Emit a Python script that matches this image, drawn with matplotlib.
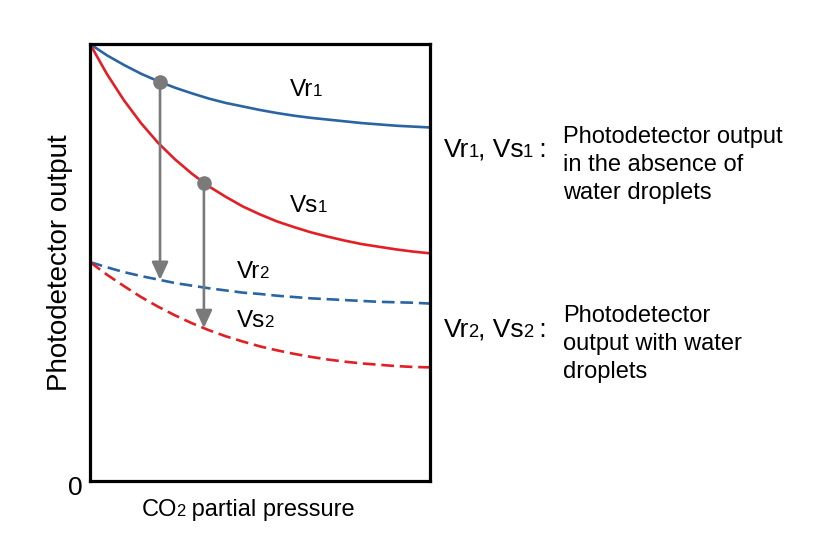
import numpy as np
import matplotlib.pyplot as plt
from matplotlib import transforms

plt.rcParams['font.family'] = ['Liberation Sans', 'DejaVu Sans']

# values (arbitrary units, 0-100 on both axes)
pressure = [0, 5, 10, 15, 20, 25, 30, 35, 40, 45, 50, 55, 60, 65, 70, 75, 80, 85, 90, 95, 100]
vr1 = [100, 97.4, 95.2, 93.2, 91.5, 90.0, 88.7, 87.5, 86.5, 85.7, 84.9,
       84.2, 83.6, 83.1, 82.7, 82.3, 81.9, 81.6, 81.3, 81.1, 80.9]
vs1 = [100, 93.1, 87.1, 81.9, 77.4, 73.6, 70.3, 67.4, 65.0, 62.8, 61.0,
       59.4, 58.1, 56.9, 55.9, 55.0, 54.2, 53.6, 53.0, 52.5, 52.1]
vr2 = [50.1, 48.9, 47.8, 46.9, 46.1, 45.3, 44.7, 44.1, 43.6, 43.1, 42.8,
       42.4, 42.1, 41.8, 41.6, 41.4, 41.2, 41.0, 40.9, 40.8, 40.6]
vs2 = [50.1, 47.2, 44.6, 42.1, 39.9, 37.9, 36.1, 34.5, 33.1, 31.9, 30.8,
       29.9, 29.1, 28.4, 27.8, 27.3, 26.9, 26.6, 26.3, 26.1, 26.0]

# where the drop arrows sit on the x axis
arrow_x = [20.6, 33.5]

BLUE = '#2b64a3'
RED = '#e31e24'
GRAY = '#7a7a7a'

fig = plt.figure(figsize=(8.4, 5.5), dpi=100)
ax = fig.add_axes([90/840, 69/550, 340/840, 437/550])
renderer = fig.canvas.get_renderer()


def rich_text(x, y, parts, size, transform):
    # parts: (text, is_small) -> small digits sit on the baseline
    off = 0
    for s, small in parts:
        fs = size * 0.7 if small else size
        tr = transforms.offset_copy(transform, fig=fig, x=off, y=0, units='points')
        t = fig.text(x, y, s, fontsize=fs, va='baseline', ha='left', transform=tr)
        off += t.get_window_extent(renderer).width * 72 / fig.dpi - 0.6


ax.plot(pressure, vr1, color=BLUE, lw=1.9)
ax.plot(pressure, vs1, color=RED, lw=1.9)
ax.plot(pressure, vr2, color=BLUE, lw=1.9, linestyle=(0, (4.8, 2.2)))
ax.plot(pressure, vs2, color=RED, lw=1.9, linestyle=(0, (4.8, 2.2)))

starts = [np.interp(arrow_x[0], pressure, vr1), np.interp(arrow_x[1], pressure, vs1)]
ends = [np.interp(arrow_x[0], pressure, vr2), np.interp(arrow_x[1], pressure, vs2)]
for xa, y0, y1 in zip(arrow_x, starts, ends):
    ax.annotate('', xy=(xa, y1), xytext=(xa, y0),
                arrowprops=dict(arrowstyle='-|>,head_length=0.54,head_width=0.25',
                                color=GRAY, lw=1.9, shrinkA=0, shrinkB=0,
                                mutation_scale=20))
    ax.plot(xa, y0, 'o', color=GRAY, ms=9.5, zorder=5)

ax.set_xlim(0, 100)
ax.set_ylim(0, 100)
ax.set_xticks([])
ax.set_yticks([])
for sp in ax.spines.values():
    sp.set_linewidth(2.3)
    sp.set_color('black')

# curve labels
rich_text(58.8, 88.1, [('Vr', False), ('1', True)], 17.5, ax.transData)
rich_text(58.8, 61.6, [('Vs', False), ('1', True)], 17.5, ax.transData)
rich_text(43.2, 46.5, [('Vr', False), ('2', True)], 17.5, ax.transData)
rich_text(43.2, 35.2, [('Vs', False), ('2', True)], 17.5, ax.transData)

# axis texts
fig.text(60/840, 1 - 263/550, 'Photodetector output', rotation=90,
         ha='center', va='center', fontsize=20)
fig.text(83/840, 1 - 488/550, '0', ha='right', va='center', fontsize=19)
rich_text(142/840, 1 - 516/550, [('CO', False), ('2', True), (' partial pressure', False)],
          17, fig.transFigure)

# legend-like notes on the right
rich_text(444/840, 1 - 157/550, [('Vr', False), ('1', True), (', Vs', False), ('1', True), (' :', False)],
          19, fig.transFigure)
for i, line in enumerate(['Photodetector output', 'in the absence of', 'water droplets']):
    fig.text(563/840, 1 - (143 + 28 * i)/550, line, fontsize=17, va='baseline')

rich_text(444/840, 1 - 337/550, [('Vr', False), ('2', True), (', Vs', False), ('2', True), (' :', False)],
          19, fig.transFigure)
for i, line in enumerate(['Photodetector', 'output with water', 'droplets']):
    fig.text(563/840, 1 - (322 + 28 * i)/550, line, fontsize=17, va='baseline')

fig.savefig('out.png', dpi=100)
